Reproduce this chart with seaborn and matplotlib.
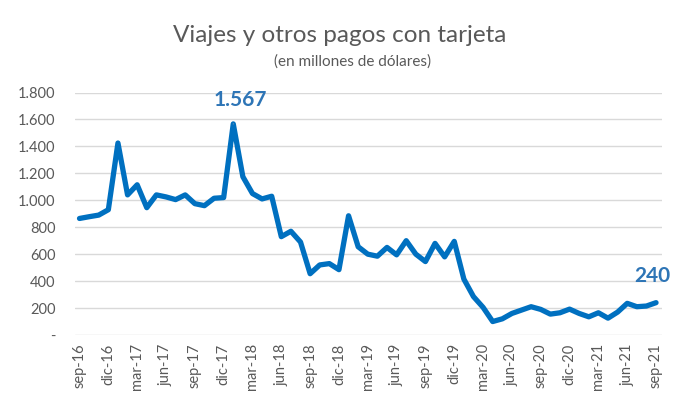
import matplotlib
matplotlib.use("Agg")
import matplotlib.pyplot as plt
import pandas as pd
import seaborn as sns

# Monthly values, sep-16 .. sep-21 (millones de USD)
meses = [
    "sep-16", "oct-16", "nov-16", "dic-16", "ene-17", "feb-17", "mar-17", "abr-17", "may-17", "jun-17",
    "jul-17", "ago-17", "sep-17", "oct-17", "nov-17", "dic-17", "ene-18", "feb-18", "mar-18", "abr-18",
    "may-18", "jun-18", "jul-18", "ago-18", "sep-18", "oct-18", "nov-18", "dic-18", "ene-19", "feb-19",
    "mar-19", "abr-19", "may-19", "jun-19", "jul-19", "ago-19", "sep-19", "oct-19", "nov-19", "dic-19",
    "ene-20", "feb-20", "mar-20", "abr-20", "may-20", "jun-20", "jul-20", "ago-20", "sep-20", "oct-20",
    "nov-20", "dic-20", "ene-21", "feb-21", "mar-21", "abr-21", "may-21", "jun-21", "jul-21", "ago-21",
    "sep-21",
]
valores = [
    865, 878, 890, 930, 1425, 1040, 1115, 945, 1040, 1025,
    1005, 1040, 975, 960, 1015, 1020, 1567, 1175, 1050, 1010,
    1030, 730, 770, 690, 455, 520, 530, 485, 885, 655,
    600, 585, 650, 595, 700, 600, 545, 680, 580, 695,
    415, 285, 205, 100, 120, 160, 185, 210, 190, 155,
    165, 192, 160, 135, 165, 125, 170, 235, 210, 215,
    240,
]
y_ticks = [0, 200, 400, 600, 800, 1000, 1200, 1400, 1600, 1800]
y_labels = ["-", "200", "400", "600", "800", "1.000", "1.200", "1.400", "1.600", "1.800"]

df = pd.DataFrame({"idx": range(len(valores)), "mes": meses, "valor": valores})

sns.set_theme(style="whitegrid")
plt.rcParams["font.family"] = ["Lato", "DejaVu Sans"]

gris = "#595959"
azul = "#0070C0"

fig = plt.figure(figsize=(6.8, 4.08), dpi=100)
ax = fig.add_axes([75 / 680, 73 / 408, 587 / 680, 242.5 / 408])

sns.lineplot(data=df, x="idx", y="valor", ax=ax, color=azul, linewidth=3.8,
             solid_joinstyle="round", solid_capstyle="round")

ax.set_xlim(-0.47, 60.62)
ax.set_ylim(0, 1800)
ax.set_yticks(y_ticks)
ax.set_yticklabels(y_labels)
ax.set_xticks(df["idx"][::3])
ax.set_xticklabels(df["mes"][::3], rotation=90)
ax.tick_params(axis="both", colors=gris, labelsize=10.5, length=0)
ax.tick_params(axis="y", pad=14)
ax.tick_params(axis="x", pad=6)
ax.set_xlabel("")
ax.set_ylabel("")
ax.grid(axis="x", visible=False)
ax.grid(axis="y", color="#d9d9d9", linewidth=1)
for s in ax.spines.values():
    s.set_visible(False)

# Data labels
i_max = valores.index(max(valores))
ax.annotate("1.567", xy=(i_max, valores[i_max]), xytext=(i_max + 0.7, 1745),
            color="#2E75B6", fontsize=15, fontweight="bold", ha="center", va="center",
            arrowprops=dict(arrowstyle="-", color="#a6a6a6", lw=0.8, shrinkA=8, shrinkB=2))
ax.annotate("240", xy=(len(valores) - 1, valores[-1]), xytext=(len(valores) - 1.4, 440),
            color="#2E75B6", fontsize=15, fontweight="bold", ha="center", va="center")

fig.text(340 / 680, 0.914, "Viajes y otros pagos con tarjeta", ha="center", va="center",
         fontsize=17.5, color=gris)
fig.text(353 / 680, 0.848, "(en millones de dólares)", ha="center", va="center",
         fontsize=11, color=gris)

fig.savefig("out.png", dpi=100)
